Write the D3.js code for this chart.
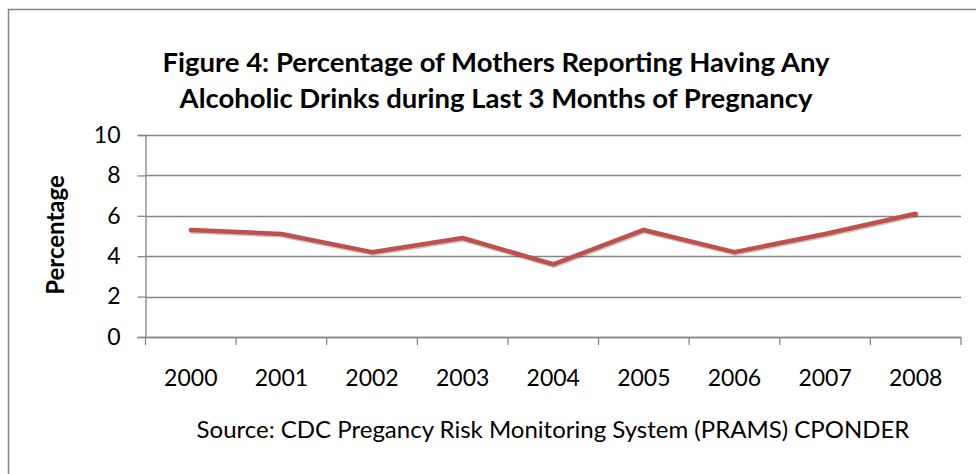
<!DOCTYPE html>
<html lang="en">
<head>
    <meta charset="utf-8">
    <script type="text/javascript" src="https://d3js.org/d3.v7.min.js"></script>
    <style>
        body { margin: 0; background: #fff; }
        text { font-family: Lato, "Open Sans", sans-serif; fill: #000; }
    </style>
</head>

<body>
    <script type="text/javascript">
        // data
        let years = ["2000", "2001", "2002", "2003", "2004", "2005", "2006", "2007", "2008"];
        let percentages = [5.3, 5.1, 4.2, 4.9, 3.6, 5.3, 4.2, 5.1, 6.1];
        let yTicks = [0, 2, 4, 6, 8, 10];
        let titleLines = ["Figure 4: Percentage of Mothers Reporting Having Any",
                          "Alcoholic Drinks during Last 3 Months of Pregnancy"];
        let yLabel = "Percentage";
        let sourceNote = "Source: CDC Pregancy Risk Monitoring System (PRAMS) CPONDER";

        let w = 976;
        let h = 474;
        let grey = "#868686";

        let svg = d3.select("body").append("svg")
            .attr("width", w)
            .attr("height", h);

        // outer chart border (runs off the right and bottom edges)
        svg.append("rect")
            .attr("x", 8.5)
            .attr("y", 9.5)
            .attr("width", 990)
            .attr("height", 490)
            .attr("fill", "none")
            .attr("stroke", grey)
            .attr("stroke-width", 1.5);

        let x = d3.scaleBand()
            .domain(years)
            .range([145.5, 961])
            .padding(0);

        let y = d3.scaleLinear()
            .domain([0, 10])
            .range([337, 135]);

        // horizontal gridlines
        svg.selectAll("line.grid")
            .data(yTicks)
            .join("line")
            .attr("class", "grid")
            .attr("x1", x.range()[0])
            .attr("x2", x.range()[1])
            .attr("y1", function(d) { return Math.round(y(d)) + 0.5; })
            .attr("y2", function(d) { return Math.round(y(d)) + 0.5; })
            .attr("stroke", grey)
            .attr("stroke-width", 1.3);

        // y axis
        let yAxis = svg.append("g")
            .attr("transform", "translate(" + x.range()[0] + ",0)")
            .call(d3.axisLeft(y).tickValues(yTicks).tickSize(8).tickPadding(17));
        yAxis.select(".domain").attr("stroke", grey).attr("stroke-width", 1.3);
        yAxis.selectAll(".tick line").attr("stroke", grey).attr("stroke-width", 1.3);
        yAxis.selectAll(".tick text")
            .style("font-family", "Lato")
            .style("font-size", "23px")
            .attr("fill", "#000");

        // x axis: labels centred in bands, tick marks on band edges
        let xAxis = svg.append("g")
            .attr("transform", "translate(0," + y(0) + ")")
            .call(d3.axisBottom(x).tickSize(0).tickPadding(33));
        xAxis.select(".domain").remove();
        xAxis.selectAll(".tick text")
            .style("font-family", "Lato")
            .style("font-size", "23px")
            .attr("fill", "#000");

        svg.append("line")
            .attr("x1", x.range()[0])
            .attr("x2", x.range()[1])
            .attr("y1", Math.round(y(0)) + 0.5)
            .attr("y2", Math.round(y(0)) + 0.5)
            .attr("stroke", grey)
            .attr("stroke-width", 1.3);

        let edges = years.map(function(d) { return x(d); }).concat([x.range()[1]]);
        svg.selectAll("line.xtick")
            .data(edges)
            .join("line")
            .attr("class", "xtick")
            .attr("x1", function(d) { return d; })
            .attr("x2", function(d) { return d; })
            .attr("y1", y(0))
            .attr("y2", y(0) + 8)
            .attr("stroke", grey)
            .attr("stroke-width", 1.3);

        // the series line
        let line = d3.line()
            .x(function(d, i) { return x(years[i]) + x.bandwidth() / 2; })
            .y(function(d) { return y(d); });

        svg.append("path")
            .datum(percentages)
            .attr("d", line)
            .attr("transform", "translate(0.8,1.5)")
            .attr("fill", "none")
            .attr("stroke", "rgba(0,0,0,0.22)")
            .attr("stroke-width", 4.5)
            .attr("stroke-linejoin", "round")
            .attr("stroke-linecap", "round");

        svg.append("path")
            .datum(percentages)
            .attr("d", line)
            .attr("fill", "none")
            .attr("stroke", "#C0504D")
            .attr("stroke-width", 4.5)
            .attr("stroke-linejoin", "round")
            .attr("stroke-linecap", "round");

        // title
        svg.append("text")
            .attr("text-anchor", "middle")
            .style("font-size", "27.5px")
            .style("font-weight", "bold")
            .selectAll("tspan")
            .data(titleLines)
            .join("tspan")
            .attr("x", 496)
            .attr("y", function(d, i) { return 72 + i * 36; })
            .text(function(d) { return d; });

        // y axis title
        svg.append("text")
            .attr("transform", "translate(64,235) rotate(-90)")
            .attr("text-anchor", "middle")
            .style("font-size", "24px")
            .style("font-weight", "bold")
            .text(yLabel);

        // source note
        svg.append("text")
            .attr("x", 553)
            .attr("y", 438)
            .attr("text-anchor", "middle")
            .style("font-size", "24px")
            .text(sourceNote);
    </script>
</body>
</html>
